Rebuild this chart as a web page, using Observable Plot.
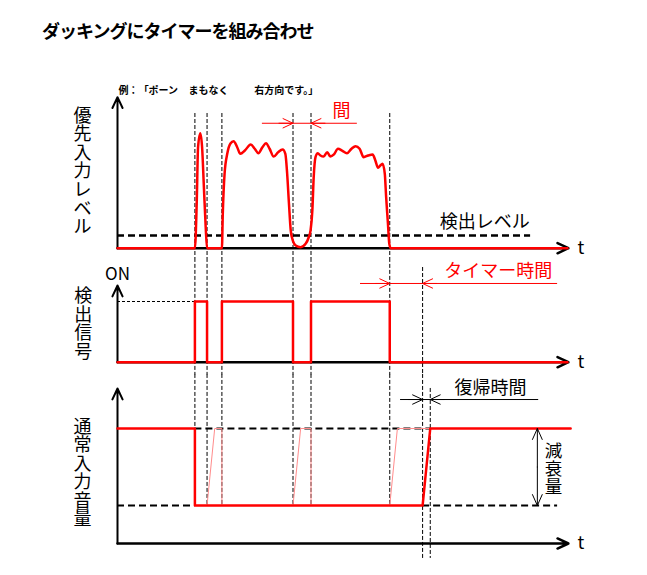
<!DOCTYPE html>
<html><head><meta charset="utf-8">
<script src="https://cdn.jsdelivr.net/npm/d3@7"></script>
<script src="https://cdn.jsdelivr.net/npm/@observablehq/plot@0.6"></script>
<style>
body{margin:0;background:#fff;}
#wrap{width:647px;height:575px;position:relative;overflow:hidden;font-family:'Noto Sans CJK JP',sans-serif;background:#fff;}
#title{position:absolute;left:42px;top:21px;font-size:18px;line-height:18px;font-weight:bold;letter-spacing:-1px;white-space:nowrap;color:#000;}
#charts{position:absolute;left:0;top:60px;}
#charts svg{display:block;}
</style></head><body>
<div id="wrap"><div id="title">ダッキングにタイマーを組み合わせ</div><div id="charts"></div></div>
<script>
// ---------- data ----------
const titleText = "ダッキングにタイマーを組み合わせ";
const exampleWords = ["例", "：", "「", "ポーン", "まもなく", "右方向です。」"];
const exampleTimes = [0.2, 2.4, 4.7, 6.9, 15.8, 30.4];

// times (arbitrary t units) where the priority level crosses the detection level
const eventTimes = [17.2, 19.9, 23.2, 39.0, 43.0, 60.5];
const timerEnd = 67.8;      // detection off + timer time
const recoveryEnd = 69.5;   // end of recovery ramp

// panel 1: priority input level
const curveT = [0,17.2,17.6,17.9,18.4,18.8,19.2,19.6,19.9,23.2,23.4,23.8,24.4,25.1,25.8,26.6,27.3,28.3,29.6,30.5,31.3,32.2,33.0,33.8,34.7,35.7,36.7,37.3,37.7,38.1,38.5,39.0,39.6,40.7,41.8,42.5,42.9,43.3,43.6,44.0,44.5,45.1,45.8,46.6,47.3,48.1,49.0,49.9,51.0,52.0,52.9,53.8,54.7,55.7,56.7,57.3,57.9,58.4,58.9,59.4,59.7,60.1,60.4,60.7,100];
const curveV = [0,0,29.8,67.3,76.7,67.3,40.7,14,0,0,23.1,49.8,63.1,69.8,71.3,67.3,62.9,65.1,69.1,66.3,63.3,67.3,70,66.3,61.1,64,65.8,62.9,49.8,29.8,11.8,4.7,1.8,0.7,2.9,7.3,11.8,25.1,47.3,60.7,63.3,61.8,61.1,64,61.1,62.5,66.3,65.1,63.3,66.3,68,66.3,60.7,61.8,62.5,58.5,53.6,55.1,56.3,49.6,34,16.3,2.9,0,0];
const detectLevel = 8.5;
const gapTimes = [39.0, 43.0];           // 「間」
// panel 2: detection signal
const detT = [0, 17.2, 19.9, 23.2, 39.0, 43.0, 60.5, 100];
const detV = [0, 1, 0, 1, 0, 1, 0, 0];
// panel 3: normal input volume
const volT = [0, 17.2, 17.2, 67.8, 69.5, 100.7];
const volV = [1, 1, 0.33, 0.33, 1, 1];
const normalLevel = 1, duckLevel = 0.33;
const ghostT = [19.9, 21.6, 23.2, 23.2, 39.0, 40.7, 43.0, 43.0, 60.5, 62.2, 69.5];
const ghostV = [0.33, 1, 1, 0.33, 0.33, 1, 1, 0.33, 0.33, 1, 1];
const ghostG = [1, 1, 1, 1, 2, 2, 2, 2, 3, 3, 3];

const yLabel1 = "優先入力レベル", yLabel2 = "検出信号", yLabel3 = "通常入力音量";
const detectLabel = "検出レベル", gapLabel = "間", onLabel = "ON", timerLabel = "タイマー時間",
      recoveryLabel = "復帰時間", attenLabel = "減衰量", tLabel = "t";

// ---------- helpers ----------
const rows = (T, V, G) => T.map((t, i) => ({t, v: V[i], g: G ? G[i] : 0}));
const vert = s => s.split("").join("\n");
const font = "'Noto Sans CJK JP', sans-serif";
const X = {domain: [0, 100], range: [117, 567], axis: null};
const baseStyle = {fontFamily: font, color: "#000", background: "transparent", overflow: "visible"};
const axisArrows = (top) => [
  Plot.arrow([0], {x1: 0, y1: 0, x2: 0, y2: top, stroke: "#000", strokeWidth: 2, headLength: 9, headAngle: 50}),
  Plot.arrow([0], {x1: 0, y1: 0, x2: 100.2, y2: 0, stroke: "#000", strokeWidth: 2.5, headLength: 7.2, headAngle: 50}),
  Plot.text([tLabel], {x: 102.2, y: 0, text: d => d, textAnchor: "start", lineAnchor: "middle", fontSize: 18, fill: "#000"})
];
// dimension arrowheads: each {tip, dir}
const heads = (tips, yv, color) => Plot.arrow(tips, {
  x1: d => d.tip - 8 * d.dir, x2: d => d.tip, y1: yv, y2: yv,
  insetStart: 22, stroke: color, strokeWidth: 1, headLength: 16.5, headAngle: 50
});
const dash = {stroke: "#000", strokeWidth: 1, strokeDasharray: "4,2"};

// ---------- panel 1 ----------
const p1 = Plot.plot({
  width: 647, height: 198,
  x: X, y: {domain: [0, 100], range: [187.7, 37.7], axis: null},
  style: baseStyle,
  marks: [
    Plot.ruleX(eventTimes, {x: d => d, y1: 89.8, y2: -6.9, ...dash}),
    Plot.ruleY([detectLevel], {x1: 0, x2: 91.8, y: d => d, stroke: "#000", strokeWidth: 2.5, strokeDasharray: "7,4"}),
    ...axisArrows(100.7),
    Plot.line(rows(curveT, curveV), {x: "t", y: "v", stroke: "#ff0000", strokeWidth: 2.5, curve: "monotone-x"}),
    Plot.ruleY([83.3], {x1: 32.2, x2: 53.3, y: d => d, stroke: "#ff0000", strokeWidth: 1}),
    heads([{tip: gapTimes[0], dir: 1}, {tip: gapTimes[1], dir: -1}], 83.3, "#ff0000"),
    Plot.text([gapLabel], {x: 49.8, y: 91.1, text: d => d, fontSize: 18, fill: "#ff0000", lineAnchor: "middle"}),
    Plot.text([detectLabel], {x: 81.6, y: 17.1, text: d => d, fontSize: 18, fill: "#000", lineAnchor: "middle"}),
    Plot.text(exampleWords, {x: (d, i) => exampleTimes[i], y: 105.1, text: d => d, textAnchor: "start", lineAnchor: "middle", fontSize: 10, fontWeight: "bold", fill: "#000"}),
    Plot.text([yLabel1], {x: -7.8, y: 51.1, text: d => vert(d), fontSize: 18, lineHeight: 1.03, lineAnchor: "middle", fill: "#000"})
  ]
});

// ---------- panel 2 ----------
const p2 = Plot.plot({
  width: 647, height: 116,
  x: X, y: {domain: [0, 1], range: [103.7, 43], axis: null},
  style: baseStyle,
  marks: [
    Plot.ruleX(eventTimes, {x: d => d, y1: 1.71, y2: -0.21, ...dash}),
    Plot.ruleX([timerEnd], {x: d => d, y1: 1.56, y2: -0.21, ...dash}),
    Plot.ruleY([1], {x1: 0, x2: eventTimes[0], y: d => d, stroke: "#000", strokeWidth: 1, strokeDasharray: "3,2"}),
    ...axisArrows(1.264),
    Plot.line(rows(detT, detV), {x: "t", y: "v", stroke: "#ff0000", strokeWidth: 2.5, curve: "step-after"}),
    Plot.ruleY([1.297], {x1: 54, x2: 97.8, y: d => d, stroke: "#ff0000", strokeWidth: 1}),
    heads([{tip: eventTimes[5], dir: 1}, {tip: timerEnd, dir: -1}], 1.297, "#ff0000"),
    Plot.text([timerLabel], {x: 84.6, y: 1.494, text: d => d, fontSize: 18, fill: "#ff0000", lineAnchor: "middle"}),
    Plot.text([onLabel], {x: 0, y: 1.445, text: d => d, fontSize: 17, fill: "#000", lineAnchor: "middle"}),
    Plot.text([yLabel2], {x: -7.6, y: 0.629, text: d => vert(d), fontSize: 18, lineHeight: 1.03, lineAnchor: "middle", fill: "#000"})
  ]
});

// ---------- panel 3 ----------
const p3 = Plot.plot({
  width: 647, height: 201,
  x: X, y: {domain: [0, 1], range: [169, 54], axis: null},
  style: baseStyle,
  marks: [
    Plot.ruleX(eventTimes, {x: d => d, y1: 1.47, y2: duckLevel, ...dash}),
    Plot.ruleX([timerEnd], {x: d => d, y1: 1.47, y2: -0.13, ...dash}),
    Plot.ruleX([recoveryEnd], {x: d => d, y1: 1.348, y2: -0.13, ...dash}),
    Plot.ruleY([normalLevel], {x1: eventTimes[0], x2: recoveryEnd, y: d => d, stroke: "#000", strokeWidth: 2, strokeDasharray: "7,4"}),
    Plot.ruleY([duckLevel], {x1: 0, x2: eventTimes[0], y: d => d, stroke: "#000", strokeWidth: 2, strokeDasharray: "7,4"}),
    Plot.ruleY([duckLevel], {x1: timerEnd, x2: 97.8, y: d => d, stroke: "#000", strokeWidth: 2, strokeDasharray: "7,4"}),
    ...axisArrows(1.348),
    Plot.line(rows(ghostT, ghostV, ghostG), {x: "t", y: "v", z: "g", stroke: "#ff8c8c", strokeWidth: 1}),
    Plot.line(rows(volT, volV), {x: "t", y: "v", stroke: "#ff0000", strokeWidth: 2.5}),
    Plot.arrow([normalLevel, duckLevel], {x1: 93.3, x2: 93.3, y1: (normalLevel + duckLevel) / 2, y2: d => d, stroke: "#000", strokeWidth: 1, headLength: 18, headAngle: 48}),
    Plot.text([attenLabel], {x: 96.9, y: 0.648, text: d => vert(d), fontSize: 17.5, lineHeight: 1.02, lineAnchor: "middle", fill: "#000"}),
    Plot.ruleY([1.252], {x1: 62.9, x2: 93.6, y: d => d, stroke: "#000", strokeWidth: 1}),
    heads([{tip: timerEnd, dir: 1}, {tip: recoveryEnd, dir: -1}], 1.252, "#000"),
    Plot.text([recoveryLabel], {x: 82.9, y: 1.348, text: d => d, fontSize: 18, fill: "#000", lineAnchor: "middle"}),
    Plot.text([yLabel3], {x: -7.8, y: 0.613, text: d => vert(d), fontSize: 18, lineHeight: 1.03, lineAnchor: "middle", fill: "#000"})
  ]
});

const host = document.getElementById("charts");
host.append(p1, p2, p3);
</script>
</body></html>
